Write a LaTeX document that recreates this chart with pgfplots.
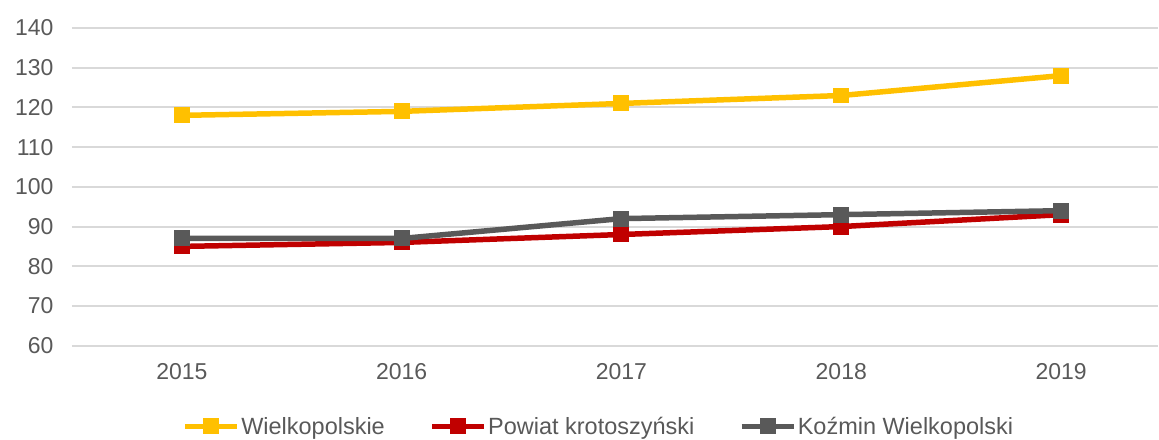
\documentclass[border=0pt]{standalone}
\usepackage{pgfplots}
\pgfplotsset{compat=1.18}
\usepackage{fontspec}
\setmainfont{Liberation Sans}
\definecolor{cyel}{HTML}{FFC000}
\definecolor{cred}{HTML}{C00000}
\definecolor{cgray}{HTML}{595959}
\definecolor{ctext}{HTML}{595959}
\definecolor{cgrid}{HTML}{D9D9D9}
\begin{document}
\begin{tikzpicture}
\begin{axis}[
  at={(0,0)}, anchor=south west,
  scale only axis,
  width=1087pt, height=318pt,
  xmin=-0.5, xmax=4.441,
  ymin=60, ymax=140,
  ytick={60,70,...,140},
  xtick={0,1,2,3,4},
  xticklabels={2015,2016,2017,2018,2019},
  axis line style={draw=none},
  major tick length=0pt,
  ymajorgrids,
  grid style={cgrid, line width=2pt},
  tick label style={font=\fontsize{23}{27}\selectfont, text=ctext},
  /pgf/number format/assume math mode=true,
  yticklabel style={xshift=-15pt},
  xticklabel style={yshift=-14pt},
  clip=false,
  legend columns=3,
  legend style={draw=none, fill=none, at={(0.4848,-0.254)}, anchor=center,
    font=\fontsize{23.5}{27}\selectfont, text=ctext,
    nodes={inner sep=1.5pt},
    /tikz/every even column/.append style={column sep=43pt}},
  legend image code/.code={%
    \draw[mark repeat=2, mark phase=2, #1] plot coordinates {(0pt,0pt) (26pt,0pt) (52pt,0pt)};},
]
\addplot[cyel, line width=5.5pt, mark=square*, mark size=7.5pt, mark options={solid, line width=0pt}]
  coordinates {(0,118) (1,119) (2,121) (3,123) (4,128)};
\addlegendentry{Wielkopolskie}
\addplot[cred, line width=5.5pt, mark=square*, mark size=7.5pt, mark options={solid, line width=0pt}]
  coordinates {(0,85) (1,86) (2,88) (3,90) (4,93)};
\addlegendentry{Powiat krotoszyński}
\addplot[cgray, line width=5.5pt, mark=square*, mark size=7.5pt, mark options={solid, line width=0pt}]
  coordinates {(0,87) (1,87) (2,92) (3,93) (4,94)};
\addlegendentry{Koźmin Wielkopolski}
\end{axis}
\path[use as bounding box] (-72pt,-90pt) rectangle (1087pt,346pt);
\end{tikzpicture}
\end{document}
